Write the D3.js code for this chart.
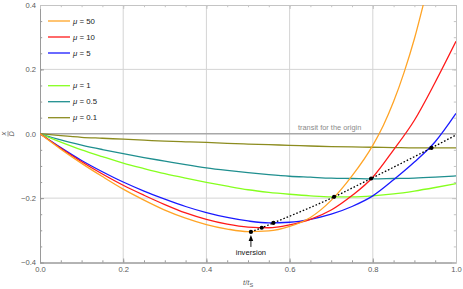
<!DOCTYPE html>
<html>
<head>
<meta charset="utf-8">
<script src="https://cdn.jsdelivr.net/npm/d3@7"></script>
<style>
  body { margin: 0; background: #fff; }
  svg { display: block; font-family: "Liberation Sans", Arial, sans-serif; }
</style>
</head>
<body>
<svg id="chart" width="463" height="289"></svg>
<script>
// t / tS sample points shared by most curves
const tValues = [0, 0.05, 0.1, 0.15, 0.2, 0.25, 0.3, 0.35, 0.4, 0.45, 0.5,
                 0.55, 0.6, 0.65, 0.7, 0.75, 0.8, 0.85, 0.9, 0.95, 1.0];

// mu = 50 leaves the frame near t = 0.92, so it has its own t list
const tMu50 = [0, 0.05, 0.1, 0.15, 0.2, 0.25, 0.3, 0.35, 0.4, 0.45, 0.5,
               0.55, 0.6, 0.65, 0.7, 0.75, 0.8, 0.825, 0.85, 0.875, 0.9, 0.925];
const mu50 = [0, -0.048, -0.092, -0.133, -0.172, -0.206, -0.237, -0.262, -0.282, -0.296, -0.304,
              -0.302, -0.288, -0.260, -0.207, -0.131, -0.036, 0.025, 0.10, 0.19, 0.295, 0.42];
const mu10 = [0, -0.045, -0.087, -0.125, -0.160, -0.191, -0.220, -0.246, -0.266, -0.281, -0.290,
              -0.292, -0.283, -0.266, -0.237, -0.192, -0.135, -0.050, 0.042, 0.160, 0.287];
const mu5 = [0, -0.043, -0.083, -0.118, -0.150, -0.178, -0.203, -0.226, -0.245, -0.260, -0.271,
             -0.277, -0.275, -0.266, -0.250, -0.226, -0.193, -0.143, -0.088, -0.025, 0.063];
const mu1 = [0, -0.026, -0.050, -0.071, -0.091, -0.108, -0.124, -0.138, -0.151, -0.163, -0.174,
             -0.182, -0.188, -0.193, -0.196, -0.196, -0.193, -0.187, -0.178, -0.167, -0.155];
const mu05 = [0, -0.019, -0.035, -0.049, -0.062, -0.074, -0.085, -0.096, -0.106, -0.114, -0.121,
              -0.127, -0.132, -0.135, -0.138, -0.139, -0.140, -0.139, -0.138, -0.135, -0.131];
const mu01 = [0, -0.006, -0.011, -0.014, -0.017, -0.020, -0.023, -0.025, -0.027, -0.030, -0.032,
              -0.034, -0.036, -0.038, -0.040, -0.041, -0.042, -0.043, -0.044, -0.044, -0.044];

const muLabels = ['50', '10', '5', '1', '0.5', '0.1'];
const muColors = ['#ffa426', '#ff1a1a', '#1a1aff', '#86ff1f', '#1f8f8f', '#8c8c1f'];

// minima of each curve (inversion points), joined by the dotted line
const inversionT = [0.507, 0.533, 0.561, 0.707, 0.796, 0.941];
const inversionV = [-0.305, -0.292, -0.277, -0.196, -0.139, -0.044];
const locusEndT = 1.0;
const locusEndV = -0.004;

const xTicks = [0, 0.2, 0.4, 0.6, 0.8, 1.0];
const yTicks = [-0.4, -0.2, 0, 0.2, 0.4];

const svg = d3.select('#chart');
const x = d3.scaleLinear().domain([0, 1]).range([40, 456]);
const y = d3.scaleLinear().domain([-0.4, 0.4]).range([262.5, 5]);

const fmt = d3.format('.1f');
const minorX = d3.range(0, 1.0001, 0.05);
const minorY = d3.range(-0.4, 0.4001, 0.05);

svg.append('defs').append('clipPath').attr('id', 'plot-clip')
  .append('rect')
  .attr('x', x(0)).attr('y', y(0.4))
  .attr('width', x(1) - x(0)).attr('height', y(-0.4) - y(0.4));

// gridlines
const grid = svg.append('g').attr('class', 'grid');
grid.selectAll('line.gx')
  .data(xTicks.slice(1, -1))
  .join('line')
  .attr('x1', d => x(d)).attr('x2', d => x(d))
  .attr('y1', y(0.4)).attr('y2', y(-0.4))
  .attr('stroke', '#d4d4d4').attr('stroke-width', 1);
grid.selectAll('line.gy')
  .data([-0.2, 0.2])
  .join('line')
  .attr('x1', x(0)).attr('x2', x(1))
  .attr('y1', d => y(d)).attr('y2', d => y(d))
  .attr('stroke', '#d4d4d4').attr('stroke-width', 1);
// transit line (x = 0)
grid.append('line')
  .attr('x1', x(0)).attr('x2', x(1))
  .attr('y1', y(0)).attr('y2', y(0))
  .attr('stroke', '#a8a8a8').attr('stroke-width', 1.3);

// frame with inward ticks
function styleAxis(g, color) {
  g.select('.domain').attr('stroke', color);
  g.selectAll('.tick line').attr('stroke', color);
  g.selectAll('.tick text').attr('fill', '#5a5a5a').style('font-size', '7.6px');
}

const left = svg.append('g').attr('transform', `translate(${x(0)},0)`)
  .call(d3.axisLeft(y).tickValues(yTicks).tickFormat(fmt).tickSizeInner(-4).tickSizeOuter(0).tickPadding(4));
styleAxis(left, '#9a9a9a');
svg.append('g').attr('transform', `translate(${x(0)},0)`)
  .call(d3.axisLeft(y).tickValues(minorY).tickFormat('').tickSizeInner(-2.2).tickSizeOuter(0))
  .call(g => styleAxis(g, '#9a9a9a'));

const bottom = svg.append('g').attr('transform', `translate(0,${y(-0.4)})`)
  .call(d3.axisBottom(x).tickValues(xTicks).tickFormat(fmt).tickSizeInner(-4).tickSizeOuter(0).tickPadding(4));
styleAxis(bottom, '#9a9a9a');
svg.append('g').attr('transform', `translate(0,${y(-0.4)})`)
  .call(d3.axisBottom(x).tickValues(minorX).tickFormat('').tickSizeInner(-2.2).tickSizeOuter(0))
  .call(g => styleAxis(g, '#9a9a9a'));

svg.append('g').attr('transform', `translate(${x(1)},0)`)
  .call(d3.axisRight(y).tickValues(yTicks).tickFormat('').tickSizeInner(-4).tickSizeOuter(0))
  .call(g => styleAxis(g, '#c4c4c4'));
svg.append('g').attr('transform', `translate(${x(1)},0)`)
  .call(d3.axisRight(y).tickValues(minorY).tickFormat('').tickSizeInner(-2.2).tickSizeOuter(0))
  .call(g => styleAxis(g, '#c4c4c4'));
svg.append('g').attr('transform', `translate(0,${y(0.4)})`)
  .call(d3.axisTop(x).tickValues(xTicks).tickFormat('').tickSizeInner(-4).tickSizeOuter(0))
  .call(g => styleAxis(g, '#c4c4c4'));
svg.append('g').attr('transform', `translate(0,${y(0.4)})`)
  .call(d3.axisTop(x).tickValues(minorX).tickFormat('').tickSizeInner(-2.2).tickSizeOuter(0))
  .call(g => styleAxis(g, '#c4c4c4'));

// annotation for the origin line
svg.append('text')
  .attr('x', 298).attr('y', y(0) - 4)
  .attr('fill', '#8a8a8a')
  .style('font-size', '7.4px')
  .text('transit for the origin');

// curves
const series = [
  { t: tMu50, v: mu50 },
  { t: tValues, v: mu10 },
  { t: tValues, v: mu5 },
  { t: tValues, v: mu1 },
  { t: tValues, v: mu05 },
  { t: tValues, v: mu01 },
];

const line = d3.line()
  .x(d => x(d[0]))
  .y(d => y(d[1]))
  .curve(d3.curveMonotoneX);

const curves = svg.append('g').attr('clip-path', 'url(#plot-clip)');
// draw small mu first so the big ones sit on top
series.slice().reverse().forEach((s, k) => {
  const i = series.length - 1 - k;
  curves.append('path')
    .attr('d', line(d3.zip(s.t, s.v)))
    .attr('fill', 'none')
    .attr('stroke', muColors[i])
    .attr('stroke-width', 1.3);
});

// dotted locus of inversion points
const locus = d3.zip(inversionT.concat([locusEndT]), inversionV.concat([locusEndV]));
curves.append('path')
  .attr('d', line(locus))
  .attr('fill', 'none')
  .attr('stroke', '#000')
  .attr('stroke-width', 1.3)
  .attr('stroke-dasharray', '1.6,1.9');

curves.selectAll('circle')
  .data(d3.zip(inversionT, inversionV))
  .join('circle')
  .attr('cx', d => x(d[0]))
  .attr('cy', d => y(d[1]))
  .attr('r', 2.1)
  .attr('fill', '#000');

// "inversion" arrow
const ax = x(inversionT[0]);
const ay = y(inversionV[0]);
svg.append('line')
  .attr('x1', ax).attr('x2', ax)
  .attr('y1', ay + 15).attr('y2', ay + 6)
  .attr('stroke', '#000').attr('stroke-width', 0.9);
svg.append('path')
  .attr('d', `M${ax},${ay + 3} L${ax - 2.3},${ay + 9} L${ax + 2.3},${ay + 9} Z`)
  .attr('fill', '#000');
svg.append('text')
  .attr('x', ax).attr('y', ay + 23.5)
  .attr('text-anchor', 'middle')
  .attr('fill', '#111')
  .style('font-size', '7.6px')
  .text('inversion');

// legend
const legend = svg.append('g');
muLabels.forEach((lab, i) => {
  const ly = 21 + i * 16 + (i >= 3 ? 16.7 : 0);
  legend.append('line')
    .attr('x1', 48).attr('x2', 70)
    .attr('y1', ly).attr('y2', ly)
    .attr('stroke', muColors[i]).attr('stroke-width', 1.3);
  const tx = legend.append('text')
    .attr('x', 73).attr('y', ly + 2.7)
    .attr('fill', '#222')
    .style('font-size', '7.8px');
  tx.append('tspan').style('font-style', 'italic').text('μ');
  tx.append('tspan').text(' = ' + lab);
});

// axis labels
const xl = svg.append('text')
  .attr('x', 243).attr('y', 285)
  .attr('fill', '#5a5a5a')
  .style('font-size', '7.6px');
xl.append('tspan').style('font-style', 'italic').text('t');
xl.append('tspan').text('/');
xl.append('tspan').style('font-style', 'italic').text('t');
xl.append('tspan').attr('dy', 1.8).style('font-size', '5.6px').text('S');

const yl = svg.append('g').attr('transform', `translate(8,${y(0)}) rotate(-90)`);
yl.append('text').attr('x', 0).attr('y', -1.6).attr('text-anchor', 'middle')
  .attr('fill', '#5a5a5a').style('font-size', '7.4px').style('font-style', 'italic').text('x');
yl.append('line').attr('x1', -2.8).attr('x2', 2.8).attr('y1', 0).attr('y2', 0)
  .attr('stroke', '#5a5a5a').attr('stroke-width', 0.6);
yl.append('text').attr('x', 0).attr('y', 6.4).attr('text-anchor', 'middle')
  .attr('fill', '#5a5a5a').style('font-size', '7.4px').style('font-style', 'italic').text('D');
</script>
</body>
</html>
